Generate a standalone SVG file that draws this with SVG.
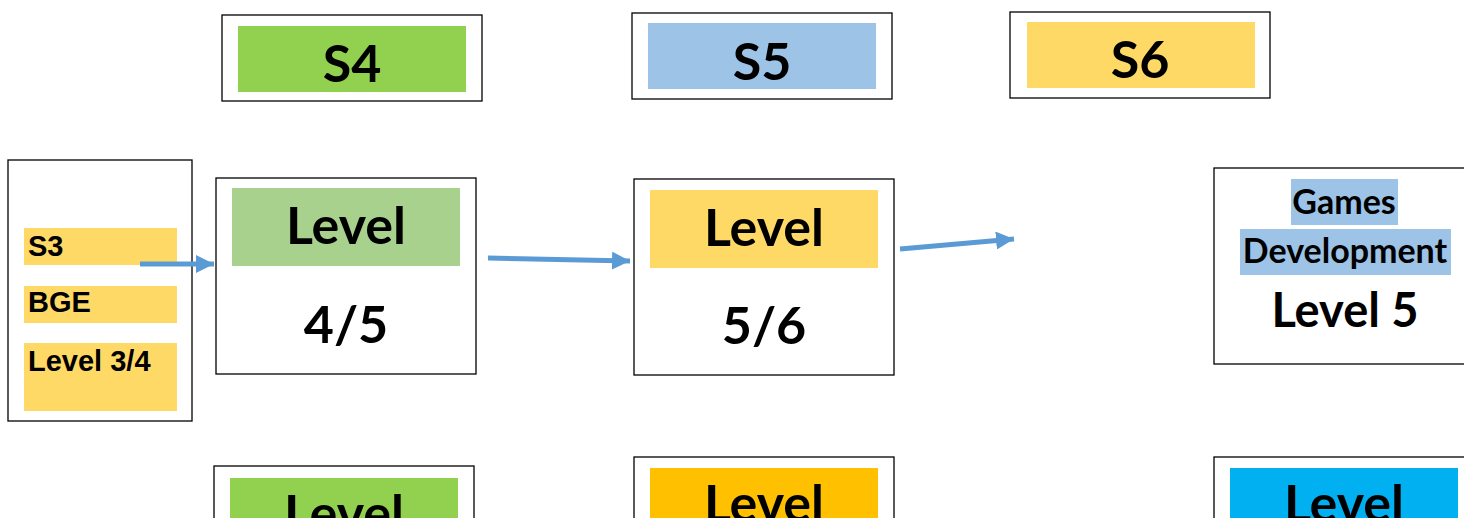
<svg xmlns="http://www.w3.org/2000/svg" width="1464" height="518" viewBox="0 0 1464 518">
<defs>
<style>
.box{fill:#fff;stroke:#000;stroke-width:1.3}
.big{font-family:Lato,"Open Sans","Liberation Sans",sans-serif;font-weight:bold;font-size:52px;fill:#000;text-anchor:middle}
.mid{font-family:Lato,"Open Sans","Liberation Sans",sans-serif;font-weight:bold;font-size:34px;fill:#000;text-anchor:middle}
.lvl5{font-family:Lato,"Open Sans","Liberation Sans",sans-serif;font-weight:bold;font-size:47px;fill:#000;text-anchor:middle}
.small{font-family:"Liberation Sans",Arial,sans-serif;font-weight:bold;font-size:29px;fill:#000}
.conn{stroke:#5B9BD5;stroke-width:5;fill:none;marker-end:url(#ah)}
</style>
<marker id="ah" markerUnits="userSpaceOnUse" markerWidth="18" markerHeight="18" refX="18" refY="9" orient="auto">
<path d="M0,0 L18,9 L0,18 z" fill="#5B9BD5"/>
</marker>
</defs>
<rect width="1464" height="518" fill="#fff"/>
<g id="s4">
<rect class="box" x="222" y="15" width="260" height="86"/>
<rect x="238" y="26" width="228" height="66" fill="#92D050"/>
<text class="big" x="352" y="82">S4</text>
</g>
<g id="s5">
<rect class="box" x="632" y="13" width="260" height="86"/>
<rect x="648" y="23" width="228" height="66" fill="#9DC3E6"/>
<text class="big" x="762" y="80">S5</text>
</g>
<g id="s6">
<rect class="box" x="1010" y="12" width="260" height="86"/>
<rect x="1027" y="22" width="228" height="66" fill="#FFD966"/>
<text class="big" x="1140" y="78">S6</text>
</g>
<g id="s3">
<rect class="box" x="8" y="160" width="184" height="261"/>
<rect x="24" y="228" width="153" height="37" fill="#FFD966"/>
<rect x="24" y="286" width="153" height="37" fill="#FFD966"/>
<rect x="24" y="343" width="153" height="68" fill="#FFD966"/>
<text class="small" x="28" y="256">S3</text>
<text class="small" x="28" y="312">BGE</text>
<text class="small" x="28" y="371">Level 3/4</text>
</g>
<g id="level45">
<rect class="box" x="216" y="178" width="260" height="196"/>
<rect x="232" y="188" width="228" height="78" fill="#A9D18E"/>
<text class="big" x="346" y="244">Level</text>
<text class="big" x="346" y="343">4/5</text>
</g>
<g id="level56">
<rect class="box" x="634" y="179" width="260" height="196"/>
<rect x="650" y="190" width="228" height="78" fill="#FFD966"/>
<text class="big" x="764" y="246">Level</text>
<text class="big" x="764" y="344">5/6</text>
</g>
<g id="games">
<rect class="box" x="1214" y="168" width="260" height="196"/>
<rect x="1291" y="179" width="107" height="46" fill="#9DC3E6"/>
<rect x="1240" y="229" width="211" height="46" fill="#9DC3E6"/>
<text class="mid" x="1344" y="214">Games</text>
<text class="mid" x="1345" y="263">Development</text>
<text class="lvl5" x="1345" y="327">Level 5</text>
</g>
<g id="bottom-a">
<rect class="box" x="214" y="466" width="260" height="120"/>
<rect x="230" y="478" width="228" height="78" fill="#92D050"/>
<text class="big" x="344" y="532">Level</text>
</g>
<g id="bottom-b">
<rect class="box" x="634" y="457" width="260" height="120"/>
<rect x="650" y="468" width="228" height="78" fill="#FFC000"/>
<text class="big" x="764" y="522">Level</text>
</g>
<g id="bottom-c">
<rect class="box" x="1214" y="457" width="260" height="120"/>
<rect x="1230" y="468" width="228" height="78" fill="#00B0F0"/>
<text class="big" x="1344" y="522">Level</text>
</g>
<g id="connectors">
<line class="conn" x1="140" y1="264" x2="214" y2="264"/>
<line class="conn" x1="488" y1="258" x2="630" y2="261"/>
<line class="conn" x1="900" y1="249" x2="1014" y2="239"/>
</g>
</svg>
